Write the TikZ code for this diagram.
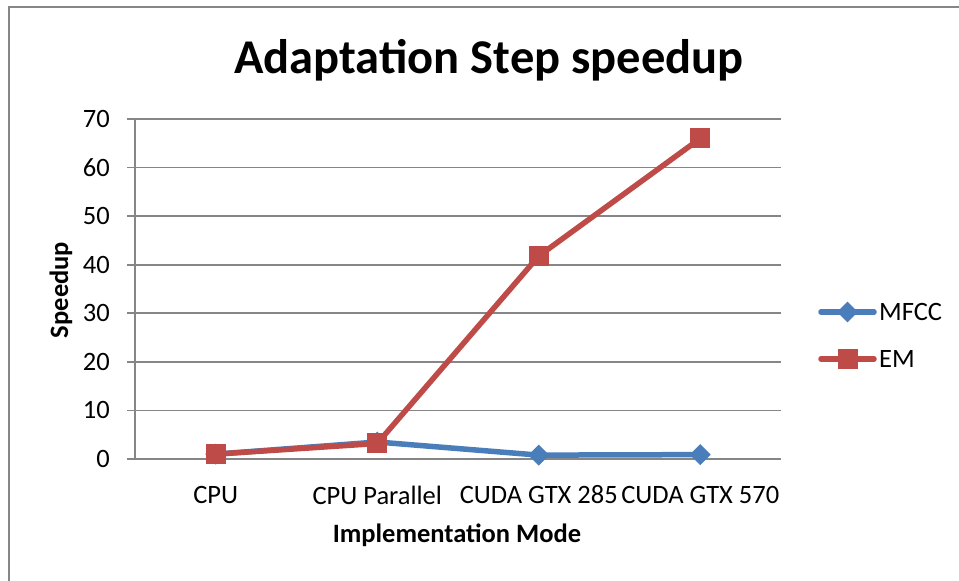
\documentclass[tikz,border=0pt]{standalone}
\usepackage{fontspec}
\setmainfont{Carlito}
\usetikzlibrary{shapes.geometric}
\definecolor{gridgray}{RGB}{134,134,134}
\definecolor{framegray}{RGB}{134,134,134}
\definecolor{mfccblue}{RGB}{74,126,187}
\definecolor{emred}{RGB}{190,75,72}
\tikzset{
  gridline/.style={draw=gridgray, line width=1.6pt},
  tick/.style={font=\fontsize{26.5}{30}\selectfont, anchor=east, inner sep=0pt},
  catlabel/.style={font=\fontsize{26.5}{30}\selectfont, anchor=center, inner sep=0pt},
  mfccline/.style={draw=mfccblue, line width=5.5pt, line join=round, line cap=round},
  emline/.style={draw=emred, line width=5.5pt, line join=round, line cap=round},
  mfccmark/.style={diamond, fill=mfccblue, minimum width=21pt, minimum height=21pt, inner sep=0pt},
  emmark/.style={rectangle, fill=emred, minimum size=20pt, inner sep=0pt},
  legtext/.style={font=\fontsize{26.5}{30}\selectfont, anchor=west, inner sep=0pt},
}
\begin{document}
\begin{tikzpicture}[x=1pt, y=-1pt]
\useasboundingbox (0,0) rectangle (959,581);
\fill[white] (0,0) rectangle (959,581);
% chart frame (cut at the right and bottom)
\draw[framegray, line width=1.6pt] (9,581) -- (9,7) -- (959,7);
% title
\node[font=\fontsize{48.5}{56}\selectfont\bfseries] (title) at (489,60) {Adaptation Step speedup};
% horizontal grid and y ticks
\foreach \v in {0,10,...,70} {
  \pgfmathsetmacro{\yy}{459-4.857*\v}
  \draw[gridline] (127,\yy) -- (781,\yy);
  \node[tick] (t\v) at (110,\yy) {\v};
}
% y axis
\draw[gridline] (135,119) -- (135,459);
% category labels
\node[catlabel] (c1) at (215.75,495) {CPU};
\node[catlabel] (c2) at (377.25,495) {CPU Parallel};
\node[catlabel] (c3) at (538.75,495) {CUDA GTX 285};
\node[catlabel] (c4) at (700.25,495) {CUDA GTX 570};
% axis titles
\node[font=\fontsize{26.5}{30}\selectfont\bfseries] (xt) at (457,535) {Implementation Mode};
\node[font=\fontsize{26.5}{30}\selectfont\bfseries, rotate=90] (yt) at (61,290) {Speedup};
% MFCC series
\node[mfccmark] (m1) at (215.75,{459-4.857*1.0}) {};
\node[mfccmark] (m2) at (377.25,{459-4.857*3.5}) {};
\node[mfccmark] (m3) at (538.75,{459-4.857*0.8}) {};
\node[mfccmark] (m4) at (700.25,{459-4.857*0.9}) {};
\draw[mfccline] (m1.center) -- (m2.center) -- (m3.center) -- (m4.center);
% EM series
\draw[emline] (215.75,{459-4.857*1.0}) coordinate (e1c) -- (377.25,{459-4.857*3.2}) coordinate (e2c)
  -- (538.75,{459-4.857*41.8}) coordinate (e3c) -- (700.25,{459-4.857*66}) coordinate (e4c);
\node[emmark] (e1) at (e1c) {};
\node[emmark] (e2) at (e2c) {};
\node[emmark] (e3) at (e3c) {};
\node[emmark] (e4) at (e4c) {};
% legend
\coordinate (la1) at (821,312);
\coordinate (la2) at (874,312);
\draw[mfccline] (la1) -- (la2);
\node[mfccmark] (lm) at (847.5,312) {};
\node[legtext] (lmt) at (879,312) {MFCC};
\coordinate (lb1) at (821,359);
\coordinate (lb2) at (874,359);
\draw[emline] (lb1) -- (lb2);
\node[emmark] (le) at (847.5,359) {};
\node[legtext] (let) at (879,359) {EM};
\end{tikzpicture}
\end{document}
